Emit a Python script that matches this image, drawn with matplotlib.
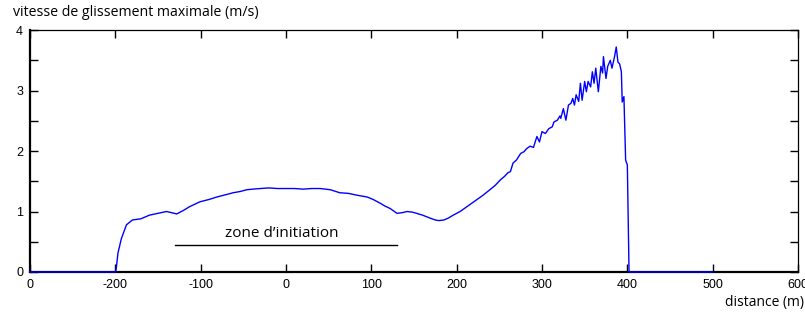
import matplotlib.pyplot as plt

# maximum slip velocity along the profile
dist = [-300, -200, -199, -197, -193, -187, -180, -170, -160, -150,
        -140, -128, -120, -113, -101, -90, -81, -70, -62, -54,
        -46, -39, -30, -20, -10, 0, 10, 20, 30, 40,
        52, 63, 73, 83, 95, 102, 110, 116, 122, 130,
        136, 142, 148, 153, 160, 169, 175, 179, 185, 190,
        196, 204, 212, 219, 226, 231, 238, 245, 251, 256,
        260, 263, 266, 270, 275, 279, 282, 286, 290, 294,
        297, 300, 304, 308, 312, 314, 318, 321, 322, 325,
        328, 331, 334, 336, 338, 340, 343, 345, 347, 350,
        352, 354, 357, 359, 361, 363, 366, 369, 371, 372,
        375, 377, 380, 382, 385, 387, 389, 391, 393, 394,
        396, 398, 400, 402, 500]
vmax = [0, 0, 0.05, 0.31, 0.55, 0.78, 0.86, 0.88, 0.94, 0.97,
        1.0, 0.96, 1.02, 1.08, 1.16, 1.2, 1.24, 1.28, 1.31, 1.33,
        1.36, 1.37, 1.38, 1.39, 1.38, 1.38, 1.38, 1.37, 1.38, 1.38,
        1.36, 1.31, 1.30, 1.27, 1.24, 1.20, 1.14, 1.09, 1.05, 0.97,
        0.98, 1.0, 0.99, 0.97, 0.94, 0.89, 0.86, 0.85, 0.86, 0.89,
        0.94, 1.0, 1.08, 1.15, 1.22, 1.27, 1.35, 1.43, 1.52, 1.58,
        1.64, 1.66, 1.80, 1.85, 1.96, 1.99, 2.04, 2.08, 2.06, 2.24,
        2.15, 2.32, 2.29, 2.37, 2.40, 2.48, 2.51, 2.58, 2.54, 2.70,
        2.51, 2.76, 2.79, 2.87, 2.76, 2.93, 2.82, 3.12, 2.84, 3.15,
        2.98, 3.15, 3.06, 3.31, 3.12, 3.37, 2.98, 3.40, 3.29, 3.56,
        3.20, 3.40, 3.50, 3.37, 3.56, 3.72, 3.47, 3.44, 3.31, 2.81,
        2.90, 1.85, 1.77, 0, 0]

xticks = [-300, -200, -100, 0, 100, 200, 300, 400, 500, 600]
xtick_labels = ["0", "-200", "-100", "0", "100", "200", "300", "400", "500", "600"]
yticks = [0, 1, 2, 3, 4]

zone = [-130, 130]
zone_level = 0.45

fig = plt.figure(figsize=(8.05, 3.13), dpi=100)
ax = fig.add_axes([0.0373, 0.131, 0.954, 0.773])

ax.plot(dist, vmax, color="#0000ff", linewidth=1.0, zorder=3, clip_on=False)
ax.plot(zone, [zone_level, zone_level], color="black", linewidth=1.0)
ax.text(sum(zone) / 2 - 5, zone_level + 0.06, "zone d\u2019initiation",
        ha="center", va="bottom", fontsize=11, family="Open Sans")

ax.set_xlim(-300, 600)
ax.set_ylim(0, 4)
ax.set_xticks(xticks)
ax.set_xticklabels(xtick_labels)
ax.set_yticks(yticks)
ax.set_yticks([0.5, 1.5, 2.5, 3.5], minor=True)

ax.tick_params(which="both", direction="in", length=6, width=1,
               top=True, right=True, labelsize=9, pad=5)
for lab in ax.get_xticklabels() + ax.get_yticklabels():
    lab.set_family("Liberation Sans")

for side in ["left", "bottom"]:
    ax.spines[side].set_linewidth(1.6)
for side in ["top", "right"]:
    ax.spines[side].set_linewidth(0.9)

fig.text(0.016, 0.985, "vitesse de glissement maximale (m/s)", ha="left", va="top",
         fontsize=10.2, family="Open Sans")
fig.text(0.999, 0.01, "distance (m)", ha="right", va="bottom",
         fontsize=10, family="Open Sans")

plt.savefig("out.png", dpi=100)
plt.close()
